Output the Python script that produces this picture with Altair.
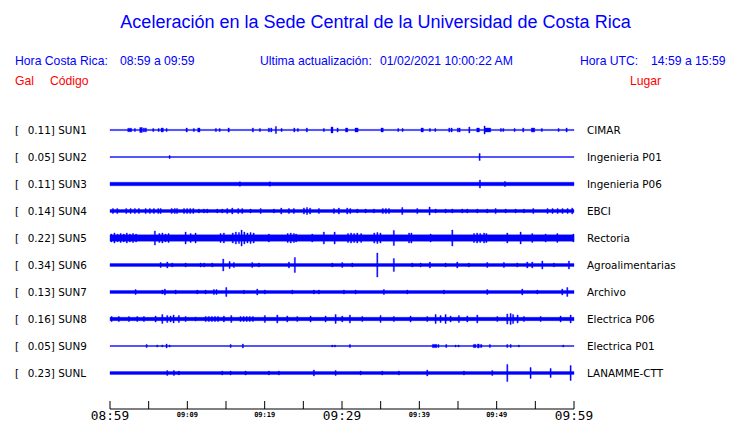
import altair as alt
import pandas as pd

# ---------------- data ----------------
STATIONS = ["SUN1", "SUN2", "SUN3", "SUN4", "SUN5", "SUN6", "SUN7", "SUN8", "SUN9", "SUNL"]
PEAKS = ["0.11", "0.05", "0.11", "0.14", "0.22", "0.34", "0.13", "0.16", "0.05", "0.23"]
PLACES = ["CIMAR", "Ingenieria P01", "Ingenieria P06", "EBCI", "Rectoria",
          "Agroalimentarias", "Archivo", "Electrica P06", "Electrica P01", "LANAMME-CTT"]
# background trace half-amplitude (display units) of each station
BASE_AMP = [0.6, 0.4, 1.75, 1.5, 3.2, 1.5, 1.5, 1.7, 0.4, 1.4]

TICK_MINUTES = [0, 5, 10, 15, 20, 25, 30, 35, 40, 45, 50, 55, 60]
MAJOR_MIN = [0, 30, 60]
MAJOR_TXT = ["08:59", "09:29", "09:59"]
MINOR_MIN = [10, 20, 40, 50]
MINOR_TXT = ["09:09", "09:19", "09:39", "09:49"]

# bursts: (minute after 08:59, half amplitude, duration in minutes)
SUN1_EV = [(2.29, 1.7, 0.52), (3.14, 1.5, 0.15), (3.84, 2.5, 0.35), (4.31, 2, 0.15), (4.56, 2, 0.15),
           (5.52, 1.5, 0.15), (6.21, 1.5, 0.15), (6.6, 2, 0.3), (7.24, 1.5, 0.15), (9.83, 2, 0.17),
           (10.77, 1.5, 0.15), (11.34, 2, 0.3), (13.62, 1.5, 0.15), (14.1, 1.5, 0.15), (15.26, 2, 0.17),
           (18.4, 2, 0.15), (19.31, 1.5, 0.15), (20.47, 2, 0.15), (20.78, 2, 0.15), (21.38, 3.5, 0.15),
           (22.11, 1.5, 0.15), (23.76, 2, 0.15), (24.22, 1.5, 0.15), (25.38, 2, 0.15), (27.58, 1.5, 0.15),
           (28.58, 3, 0.26), (29.35, 2, 0.15), (30.45, 2, 0.3), (31.68, 2, 0.4), (35.04, 2, 0.3),
           (37.2, 1.5, 0.15), (37.76, 1.5, 0.15), (40.22, 2, 0.3), (41.29, 1.5, 0.15), (41.99, 1.5, 0.15),
           (43.8, 2, 0.15), (44.1, 2, 0.15), (44.91, 2, 0.15), (45.13, 2, 0.15), (46.39, 3, 0.15),
           (47.42, 2, 0.35), (48.36, 4, 0.15), (48.49, 2, 0.74), (50.47, 1.5, 0.15), (50.78, 1.5, 0.15),
           (52.24, 1.5, 0.15), (53.36, 2, 0.15), (54.48, 2, 0.44), (55.77, 1.5, 0.15), (57.93, 1.5, 0.15),
           (58.97, 2, 0.15)]
SUN2_EV = [(7.63, 1.5, 0.15), (47.72, 3.5, 0.15)]
SUN3_EV = [(16.72, 2.2, 0.15), (20.6, 2.2, 0.15), (47.76, 4, 0.15), (50.99, 2.5, 0.15)]
SUN4_EV = [(0.3, 2.5, 0.15), (0.87, 2.5, 0.15), (2.03, 2.5, 0.15), (2.59, 2.5, 0.15), (3.14, 2.5, 0.15),
           (3.66, 2.5, 0.15), (4.53, 2.5, 0.15), (5.08, 2.5, 0.15), (5.6, 2.5, 0.15), (6.17, 2.5, 0.15),
           (6.47, 2.5, 0.15), (7.9, 2.5, 0.15), (8.3, 2.5, 0.15), (8.6, 2.5, 0.15), (9.5, 2.5, 0.15),
           (9.9, 2.5, 0.15), (10.3, 2.5, 0.15), (10.7, 2.5, 0.15), (11.42, 2, 0.15), (12.07, 2, 0.15),
           (12.5, 2, 0.15), (13.8, 2, 0.15), (14.44, 2, 0.15), (15.09, 2.5, 0.15), (15.74, 3, 0.15),
           (16.51, 2.5, 0.15), (17.03, 2.5, 0.15), (18.1, 2, 0.15), (19.4, 2.5, 0.15), (21.12, 2, 0.15),
           (22.07, 3, 0.15), (23.06, 2.5, 0.15), (23.7, 2.5, 0.15), (25.0, 3, 0.15), (25.4, 3.5, 0.15),
           (25.8, 3, 0.15), (26.94, 2.5, 0.15), (28.88, 2.5, 0.15), (29.52, 3, 0.15), (30.6, 3, 0.15),
           (31.0, 2.5, 0.15), (31.9, 2, 0.15), (32.98, 2, 0.15), (34.05, 2, 0.15), (35.2, 2.5, 0.15),
           (35.6, 2.5, 0.15), (36.0, 2.5, 0.15), (37.72, 3.5, 0.15), (39.66, 2.5, 0.15), (41.25, 4, 0.15),
           (42.03, 2, 0.15), (43.32, 2, 0.15), (44.19, 2, 0.15), (45.48, 2, 0.15), (46.13, 2, 0.15),
           (47.42, 2, 0.15), (48.71, 2, 0.15), (49.79, 2.5, 0.15), (51.08, 2, 0.15), (52.37, 2, 0.15),
           (53.45, 2, 0.15), (54.66, 2.5, 0.15), (56.5, 2.5, 0.15), (57.15, 2.5, 0.15), (57.8, 2.5, 0.15),
           (58.44, 2.5, 0.15), (59.09, 2.5, 0.15), (59.7, 3, 0.15)]
SUN5_EV = [(0.1, 4, 0.15), (0.5, 5, 0.15), (0.9, 3.8, 0.15), (1.3, 4.5, 0.15), (1.7, 4, 0.15),
           (2.1, 5, 0.15), (2.5, 4, 0.15), (2.9, 4.5, 0.15), (3.3, 4, 0.15), (5.73, 7, 0.15),
           (6.3, 4.5, 0.15), (6.7, 5, 0.15), (7.1, 4, 0.15), (7.5, 4.5, 0.15), (9.7, 6, 0.15),
           (10.35, 4.5, 0.15), (10.99, 5, 0.15), (14.22, 4.5, 0.15), (14.65, 5, 0.15), (15.8, 5, 0.15),
           (16.2, 6, 0.15), (16.6, 5.5, 0.15), (16.94, 8, 0.15), (17.3, 6, 0.15), (17.7, 5, 0.15),
           (18.1, 5.5, 0.15), (18.5, 5, 0.15), (20.47, 4, 0.15), (22.9, 4.5, 0.15), (23.3, 5, 0.15),
           (23.7, 4.5, 0.15), (24.0, 4, 0.15), (26.08, 4, 0.15), (27.58, 6, 0.15), (28.97, 6, 0.15),
           (30.7, 4.5, 0.15), (31.1, 5, 0.15), (31.5, 4.5, 0.15), (31.9, 5, 0.15), (32.4, 4.5, 0.15),
           (34.1, 5, 0.15), (34.5, 5.5, 0.15), (34.9, 5, 0.15), (36.63, 7.5, 0.15), (38.6, 5, 0.15),
           (38.9, 5, 0.15), (41.38, 4, 0.15), (44.19, 8, 0.15), (47.0, 4.5, 0.15), (47.4, 5, 0.15),
           (47.8, 4.5, 0.15), (48.3, 5, 0.15), (48.6, 4.5, 0.15), (51.3, 5, 0.15), (53.02, 6, 0.15),
           (54.53, 4.5, 0.15), (56.25, 4, 0.15), (57.77, 4.5, 0.15), (59.85, 4, 0.15)]
SUN6_EV = [(6.47, 2.5, 0.15), (7.33, 3, 0.15), (7.98, 2, 0.15), (9.7, 2, 0.15), (11.64, 2, 0.15),
           (12.1, 2, 0.15), (13.15, 2, 0.15), (14.57, 6, 0.15), (15.39, 3.5, 0.15), (15.94, 2.5, 0.15),
           (18.32, 2.5, 0.15), (19.18, 2, 0.15), (23.06, 3, 0.15), (23.83, 7.5, 0.15), (28.67, 2, 0.15),
           (29.96, 2.5, 0.15), (31.26, 2, 0.15), (34.49, 12, 0.15), (36.63, 6.5, 0.15), (39.01, 2, 0.15),
           (40.09, 2, 0.15), (41.29, 3, 0.15), (43.32, 2, 0.15), (44.83, 3, 0.15), (46.33, 2, 0.15),
           (48.71, 2.5, 0.15), (50.86, 2.5, 0.15), (52.59, 2, 0.15), (53.88, 3, 0.15), (54.53, 3, 0.15),
           (55.83, 4, 0.15), (57.33, 2, 0.15), (59.27, 4, 0.15)]
SUN7_EV = [(3.23, 2.5, 0.15), (6.69, 2, 0.15), (7.02, 3, 0.15), (8.41, 2, 0.15), (11.21, 2, 0.15),
           (12.29, 2, 0.15), (13.36, 2.5, 0.15), (13.7, 2.5, 0.15), (14.96, 4.5, 0.15), (17.24, 1.8, 0.15),
           (18.97, 3, 0.15), (19.95, 2, 0.15), (23.5, 2, 0.15), (26.29, 2, 0.15), (26.94, 2, 0.15),
           (30.17, 2, 0.15), (31.68, 2, 0.15), (35.34, 2.5, 0.15), (38.37, 2, 0.15), (43.1, 2, 0.15),
           (48.71, 2.5, 0.15), (53.24, 3, 0.15), (55.18, 2, 0.15), (58.41, 3, 0.15), (59.06, 4.5, 0.15)]
SUN8_EV = [(0.13, 2.5, 0.15), (1.07, 2.5, 0.15), (2.37, 2.5, 0.15), (3.45, 2.5, 0.15), (4.31, 2.5, 0.15),
           (5.82, 3, 0.15), (6.69, 4.5, 0.15), (7.33, 3.5, 0.15), (7.76, 3, 0.15), (8.15, 4, 0.15),
           (8.83, 3.5, 0.15), (9.7, 2.5, 0.15), (10.99, 2, 0.15), (12.3, 2.5, 0.15), (12.7, 2.5, 0.15),
           (13.1, 2.5, 0.15), (13.5, 2.5, 0.15), (13.9, 2.5, 0.15), (14.65, 3, 0.15), (15.61, 3.5, 0.15),
           (16.8, 2.5, 0.15), (17.2, 2.5, 0.15), (17.6, 2.5, 0.15), (18.0, 2.5, 0.15), (18.4, 2.5, 0.15),
           (19.95, 3.5, 0.15), (21.56, 4, 0.15), (22.85, 3, 0.15), (24.14, 2.5, 0.15), (25.86, 3, 0.15),
           (27.8, 3, 0.15), (29.1, 4.5, 0.15), (29.96, 3, 0.15), (30.95, 4, 0.15), (32.55, 2.5, 0.15),
           (34.91, 3.5, 0.15), (36.63, 2.5, 0.15), (38.79, 3, 0.15), (40.95, 2.5, 0.15), (42.03, 4.5, 0.15),
           (42.67, 3.5, 0.15), (43.32, 4.5, 0.15), (43.97, 3, 0.15), (45.04, 3.5, 0.15), (46.13, 3, 0.15),
           (47.42, 4, 0.15), (50.01, 2.5, 0.15), (51.3, 5, 0.15), (51.73, 5.5, 0.15), (52.05, 4.5, 0.15),
           (52.63, 4, 0.15), (53.45, 2.5, 0.15), (55.61, 2.5, 0.15), (58.19, 3, 0.15), (59.49, 4, 0.15)]
SUN9_EV = [(4.66, 1.5, 0.15), (6.04, 1, 0.15), (6.69, 1, 0.15), (7.24, 2, 0.15), (7.63, 1, 0.15),
           (15.52, 1.5, 0.15), (17.11, 2, 0.15), (28.67, 1, 0.15), (29.01, 1, 0.15), (30.95, 1.5, 0.15),
           (41.68, 1.6, 0.6), (42.4, 1.5, 0.15), (43.41, 1.5, 0.15), (44.61, 1, 0.15), (45.0, 1, 0.15),
           (46.98, 1.6, 0.35), (47.5, 2, 0.25), (47.9, 1.5, 0.2), (49.05, 1.5, 0.15), (51.3, 1.5, 0.15),
           (51.73, 1.5, 0.15), (52.8, 1, 0.15), (58.54, 1, 0.15)]
SUNL_EV = [(7.33, 2.5, 0.15), (8.19, 2.5, 0.15), (8.83, 2, 0.15), (14.44, 2, 0.15), (15.52, 2, 0.15),
           (17.46, 2, 0.15), (20.47, 2, 0.15), (21.76, 2, 0.15), (26.29, 3, 0.15), (29.1, 2.5, 0.15),
           (32.33, 2, 0.15), (35.13, 2, 0.15), (37.28, 2, 0.15), (40.95, 3, 0.15), (45.69, 2, 0.15),
           (49.36, 2.5, 0.15), (51.3, 8.5, 0.15), (54.31, 5.5, 0.15), (56.9, 4.5, 0.15), (59.49, 7.5, 0.15)]
EVENTS = [SUN1_EV, SUN2_EV, SUN3_EV, SUN4_EV, SUN5_EV, SUN6_EV, SUN7_EV, SUN8_EV, SUN9_EV, SUNL_EV]

# ---------------- layout ----------------
ROW_PX = 27.0
PLOT_W = 464
PLOT_H = 292.5
BLUE = "#0000ff"
RED = "#ff0000"

rows = []
for i, (base, evs) in enumerate(zip(BASE_AMP, EVENTS)):
    rows.append({"t0": 0.0, "t1": 60.0, "lo": i - base / ROW_PX, "hi": i + base / ROW_PX})
    for t, a, d in evs:
        rows.append({"t0": t, "t1": min(60.0, t + d), "lo": i - a / ROW_PX, "hi": i + a / ROW_PX})
trace_df = pd.DataFrame(rows)

xs = alt.Scale(domain=[0, 60], nice=False, zero=False)
ys = alt.Scale(domain=[-0.5, 10.3333], nice=False, zero=False, reverse=True)

traces = alt.Chart(trace_df).mark_rect(color=BLUE, stroke=BLUE, strokeWidth=0.35).encode(
    x=alt.X("t0:Q", scale=xs, axis=None),
    x2="t1",
    y=alt.Y("lo:Q", scale=ys, axis=None),
    y2="hi",
)

lab_df = pd.DataFrame({"row": list(range(len(STATIONS))),
                       "code": [f"{p}] {s}" for p, s in zip(PEAKS, STATIONS)],
                       "place": PLACES,
                       "br": ["["] * len(STATIONS)})
FONT = "DejaVu Sans"
lab_br = alt.Chart(lab_df).mark_text(align="left", baseline="middle", font=FONT, fontSize=10.4,
                                     color="black", dy=0.5).encode(
    x=alt.value(-95), y=alt.Y("row:Q", scale=ys, axis=None), text="br:N")
lab_code = alt.Chart(lab_df).mark_text(align="left", baseline="middle", font=FONT, fontSize=10.4,
                                       color="black", dy=0.5).encode(
    x=alt.value(-82.3), y=alt.Y("row:Q", scale=ys, axis=None), text="code:N")
lab_place = alt.Chart(lab_df).mark_text(align="left", baseline="middle", font=FONT, fontSize=10.4,
                                        color="black", dy=0.5).encode(
    x=alt.value(477), y=alt.Y("row:Q", scale=ys, axis=None), text="place:N")

tick_df = pd.DataFrame({"m": TICK_MINUTES})
ticks = alt.Chart(tick_df).mark_rule(color="black", strokeWidth=1).encode(
    x=alt.X("m:Q", scale=xs, axis=None), y=alt.value(PLOT_H - 8), y2=alt.value(PLOT_H))
axis_line = alt.Chart(pd.DataFrame({"k": [0]})).mark_rule(color="black", strokeWidth=1).encode(
    x=alt.value(0), x2=alt.value(PLOT_W), y=alt.value(PLOT_H))

maj_df = pd.DataFrame({"m": MAJOR_MIN, "txt": MAJOR_TXT})
min_df = pd.DataFrame({"m": MINOR_MIN, "txt": MINOR_TXT})
maj_lab = alt.Chart(maj_df).mark_text(font="DejaVu Sans Mono", fontSize=12.8, baseline="alphabetic",
                                      color="black").encode(
    x=alt.X("m:Q", scale=xs, axis=None), y=alt.value(PLOT_H + 10.5), text="txt:N")
min_lab = alt.Chart(min_df).mark_text(font="DejaVu Sans Mono", fontSize=7, fontWeight="bold",
                                      baseline="alphabetic", color="black").encode(
    x=alt.X("m:Q", scale=xs, axis=None), y=alt.value(PLOT_H + 8), text="txt:N")


def txt(s, x, y, color=BLUE, size=12.2, align="left", font="Liberation Sans"):
    return alt.Chart(pd.DataFrame({"s": [s]})).mark_text(
        align=align, baseline="alphabetic", font=font, fontSize=size, color=color
    ).encode(x=alt.value(x), y=alt.value(y), text="s:N")


header = [
    txt("Aceleración en la Sede Central de la Universidad de Costa Rica", 265.5, -88.5, size=18, align="center"),
    txt("Hora Costa Rica:", -95, -51.5),
    txt("08:59 a 09:59", 10, -51.5),
    txt("Ultima actualización:", 150, -51.5),
    txt("01/02/2021 10:00:22 AM", 270, -51.5),
    txt("Hora UTC:", 470, -51.5),
    txt("14:59 a 15:59", 541, -51.5),
    txt("Gal", -95, -32, color=RED),
    txt("Código", -60, -32, color=RED),
    txt("Lugar", 520, -32, color=RED),
]

chart = alt.layer(
    traces, ticks, axis_line, maj_lab, min_lab, lab_br, lab_code, lab_place, *header
).properties(
    width=PLOT_W, height=PLOT_H,
    autosize=alt.AutoSizeParams(type="none"),
    padding={"left": 102, "top": 108.5, "right": 158, "bottom": 12},
    background="white",
).configure_view(strokeWidth=0)

chart.save("out.html", embed_options={"renderer": "svg", "actions": False})
